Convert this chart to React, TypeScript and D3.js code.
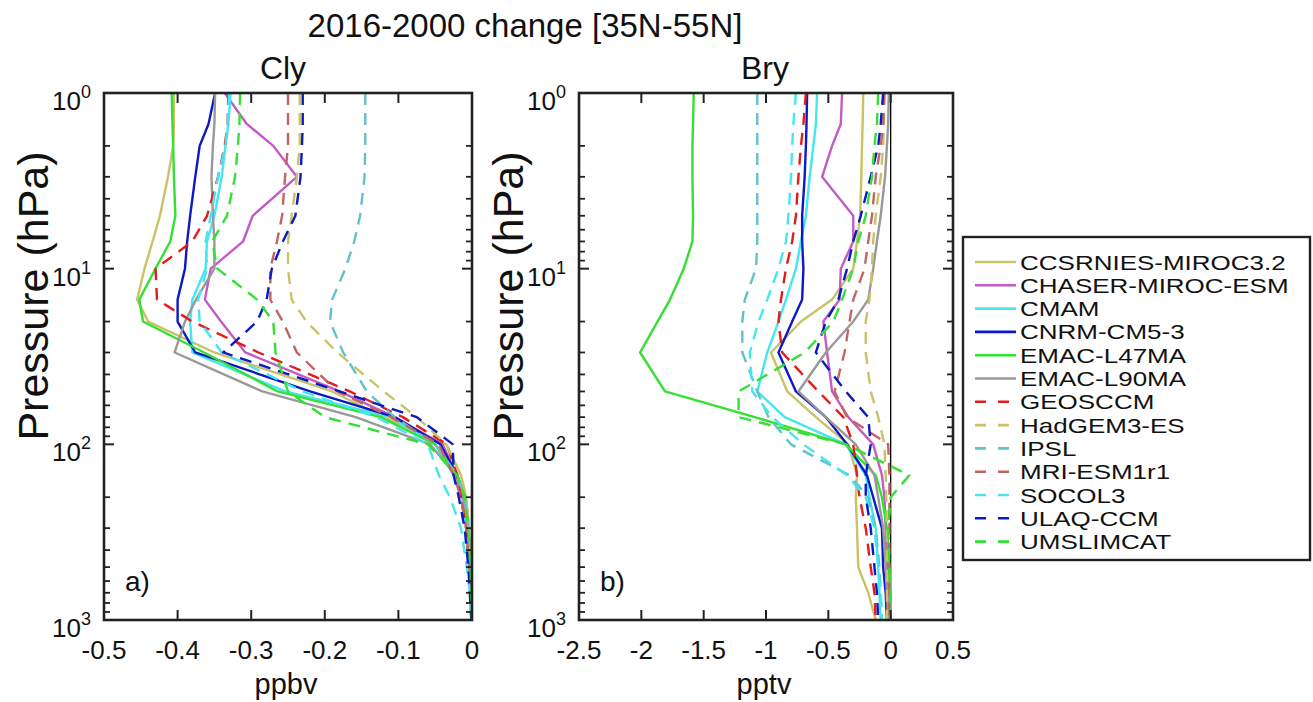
import React from 'react';
import * as d3 from 'd3';

// ---------------- DATA ----------------
const pressure = [1, 1.5, 2, 3, 5, 7, 10, 15, 20, 30, 50, 70, 100, 150, 200, 300, 500, 700, 1000];

const models = [
  'CCSRNIES-MIROC3.2', 'CHASER-MIROC-ESM', 'CMAM', 'CNRM-CM5-3', 'EMAC-L47MA', 'EMAC-L90MA',
  'GEOSCCM', 'HadGEM3-ES', 'IPSL', 'MRI-ESM1r1', 'SOCOL3', 'ULAQ-CCM', 'UMSLIMCAT',
];
const colors = [
  '#c9c266', '#c25cc4', '#45e6f2', '#0a1ac4', '#33e033', '#999999',
  '#e31c1c', '#c9c266', '#63c2c4', '#c26464', '#45e6f2', '#0a1ac4', '#33e033',
];
const dashed = [false, false, false, false, false, false, true, true, true, true, true, true, true];

// Cly change (ppbv) at each pressure level
const clyCCSRNIES = [-0.405, -0.405, -0.406, -0.413, -0.424, -0.434, -0.445, -0.455, -0.44, -0.35, -0.19, -0.12, -0.035, -0.015, -0.008, -0.004, -0.002, -0.001, 0];
const clyCHASER = [-0.336, -0.306, -0.27, -0.238, -0.298, -0.311, -0.355, -0.363, -0.341, -0.308, -0.18, -0.105, -0.04, -0.02, -0.012, -0.006, -0.003, -0.001, 0];
const clyCMAM = [-0.328, -0.331, -0.335, -0.34, -0.35, -0.36, -0.362, -0.38, -0.383, -0.38, -0.254, -0.11, -0.05, -0.025, -0.014, -0.007, -0.003, -0.001, 0];
const clyCNRM = [-0.349, -0.358, -0.37, -0.376, -0.383, -0.387, -0.39, -0.4, -0.4, -0.376, -0.22, -0.105, -0.043, -0.02, -0.01, -0.005, -0.002, -0.001, 0];
const clyEMAC47 = [-0.408, -0.407, -0.406, -0.405, -0.403, -0.41, -0.43, -0.452, -0.447, -0.364, -0.264, -0.124, -0.05, -0.02, -0.01, -0.005, -0.002, -0.001, 0];
const clyEMAC90 = [-0.349, -0.35, -0.352, -0.354, -0.352, -0.35, -0.35, -0.375, -0.39, -0.404, -0.285, -0.158, -0.057, -0.022, -0.012, -0.005, -0.002, -0.001, 0];
const clyGEOS = [-0.331, -0.332, -0.336, -0.345, -0.36, -0.38, -0.43, -0.428, -0.38, -0.29, -0.166, -0.094, -0.034, -0.02, -0.015, -0.008, -0.004, -0.002, -0.001];
const clyHadGEM = [-0.234, -0.234, -0.234, -0.238, -0.245, -0.25, -0.25, -0.245, -0.225, -0.183, -0.12, -0.075, -0.035, -0.015, -0.008, -0.004, -0.002, -0.001, 0];
const clyIPSL = [-0.145, -0.145, -0.145, -0.146, -0.152, -0.16, -0.172, -0.19, -0.193, -0.175, -0.143, -0.105, -0.05, -0.02, -0.01, -0.005, -0.002, -0.001, 0];
const clyMRI = [-0.25, -0.25, -0.25, -0.254, -0.258, -0.265, -0.274, -0.274, -0.257, -0.238, -0.183, -0.11, -0.045, -0.025, -0.015, -0.008, -0.004, -0.002, -0.001];
const clySOCOL = [-0.33, -0.332, -0.335, -0.345, -0.355, -0.362, -0.36, -0.372, -0.37, -0.34, -0.23, -0.13, -0.06, -0.045, -0.03, -0.015, -0.007, -0.003, -0.001];
const clyULAQ = [-0.23, -0.23, -0.231, -0.233, -0.24, -0.257, -0.272, -0.279, -0.292, -0.338, -0.18, -0.075, -0.026, -0.025, -0.018, -0.01, -0.005, -0.003, -0.001];
const clyUMSLIMCAT = [-0.315, -0.316, -0.318, -0.322, -0.333, -0.353, -0.346, -0.292, -0.27, -0.267, -0.25, -0.2, -0.06, -0.02, -0.01, -0.005, -0.002, -0.001, 0];

// Bry change (pptv) at each pressure level
const bryCCSRNIES = [-0.22, -0.225, -0.23, -0.235, -0.245, -0.27, -0.3, -0.47, -0.72, -0.96, -0.83, -0.6, -0.34, -0.27, -0.28, -0.27, -0.26, -0.18, -0.12];
const bryCHASER = [-0.39, -0.4, -0.47, -0.55, -0.3, -0.3, -0.4, -0.41, -0.54, -0.51, -0.47, -0.34, -0.14, -0.07, -0.05, -0.04, -0.03, -0.02, -0.02];
const bryCMAM = [-0.59, -0.6, -0.62, -0.65, -0.68, -0.72, -0.76, -0.84, -0.9, -0.99, -1.07, -0.85, -0.36, -0.2, -0.17, -0.12, -0.1, -0.09, -0.08];
const bryCNRM = [-0.67, -0.675, -0.68, -0.69, -0.71, -0.71, -0.7, -0.71, -0.79, -0.9, -0.76, -0.52, -0.35, -0.19, -0.14, -0.07, -0.06, -0.04, -0.03];
const bryEMAC47 = [-1.58, -1.585, -1.59, -1.59, -1.585, -1.59, -1.66, -1.77, -1.87, -2.01, -1.81, -1.09, -0.36, -0.12, -0.07, -0.03, -0.01, -0.005, 0];
const bryEMAC90 = [-0.015, -0.02, -0.03, -0.045, -0.08, -0.11, -0.14, -0.18, -0.3, -0.52, -0.74, -0.52, -0.28, -0.13, -0.1, -0.06, -0.04, -0.03, -0.02];
const bryGEOS = [-0.68, -0.7, -0.72, -0.74, -0.76, -0.79, -0.84, -0.88, -0.9, -0.87, -0.58, -0.38, -0.3, -0.27, -0.25, -0.2, -0.16, -0.13, -0.12];
const bryHadGEM = [-0.05, -0.055, -0.06, -0.08, -0.12, -0.14, -0.15, -0.17, -0.2, -0.2, -0.16, -0.1, -0.05, -0.04, -0.035, -0.03, -0.03, -0.03, -0.03];
const bryIPSL = [-1.07, -1.07, -1.07, -1.07, -1.07, -1.07, -1.08, -1.17, -1.19, -1.19, -1.07, -0.98, -0.8, -0.33, -0.18, -0.12, -0.09, -0.08, -0.07];
const bryMRI = [-0.05, -0.06, -0.08, -0.12, -0.15, -0.18, -0.21, -0.3, -0.33, -0.37, -0.45, -0.35, -0.02, -0.01, -0.01, -0.01, -0.01, -0.01, -0.01];
const brySOCOL = [-0.76, -0.78, -0.79, -0.8, -0.82, -0.84, -0.9, -0.99, -1.06, -1.13, -1.11, -0.95, -0.7, -0.35, -0.2, -0.13, -0.1, -0.08, -0.07];
const bryULAQ = [-0.06, -0.08, -0.1, -0.16, -0.24, -0.3, -0.35, -0.42, -0.52, -0.6, -0.36, -0.18, -0.16, -0.2, -0.2, -0.16, -0.13, -0.11, -0.1];
const bryUMSLIMCAT = [-0.1, -0.11, -0.13, -0.15, -0.2, -0.26, -0.3, -0.39, -0.46, -0.69, -1.22, -1.22, -0.36, 0.15, 0.0, -0.02, -0.01, 0, 0];

const clyData = [clyCCSRNIES, clyCHASER, clyCMAM, clyCNRM, clyEMAC47, clyEMAC90, clyGEOS, clyHadGEM, clyIPSL, clyMRI, clySOCOL, clyULAQ, clyUMSLIMCAT];
const bryData = [bryCCSRNIES, bryCHASER, bryCMAM, bryCNRM, bryEMAC47, bryEMAC90, bryGEOS, bryHadGEM, bryIPSL, bryMRI, brySOCOL, bryULAQ, bryUMSLIMCAT];

const clyTicks = [-0.5, -0.4, -0.3, -0.2, -0.1, 0];
const clyTickLabels = ['-0.5', '-0.4', '-0.3', '-0.2', '-0.1', '0'];
const bryTicks = [-2.5, -2, -1.5, -1, -0.5, 0, 0.5];
const bryTickLabels = ['-2.5', '-2', '-1.5', '-1', '-0.5', '0', '0.5'];
const yDecades = [0, 1, 2, 3];

// ---------------- LAYOUT ----------------
const FONT = '"Liberation Sans", Arial, Helvetica, sans-serif';
const TOP = 93;
const BOTTOM = 620;
const yScale = d3.scaleLog().domain([1, 1000]).range([TOP, BOTTOM]);

type PanelProps = {
  id: string;
  left: number;
  right: number;
  domain: [number, number];
  data: number[][];
  ticks: number[];
  tickLabels: string[];
  title: string;
  titleX: number;
  xlabel: string;
  letter: string;
  zeroLine: boolean;
  ylabelX: number;
};

function Panel(p: PanelProps) {
  const x = d3.scaleLinear().domain(p.domain).range([p.left, p.right]);
  const line = d3
    .line<number>()
    .x((v) => x(v))
    .y((_, i) => yScale(pressure[i]));
  const minor: number[] = [];
  for (let d = 0; d < 3; d++) for (let m = 2; m <= 9; m++) minor.push(m * Math.pow(10, d));
  const frame = '#222222';
  return (
    <g>
      <defs>
        <clipPath id={`clip-${p.id}`}>
          <rect x={p.left} y={TOP} width={p.right - p.left} height={BOTTOM - TOP} />
        </clipPath>
      </defs>
      <rect x={p.left} y={TOP} width={p.right - p.left} height={BOTTOM - TOP} fill="#fff" />
      {p.zeroLine && (
        <line x1={x(0)} x2={x(0)} y1={TOP} y2={BOTTOM} stroke="#000" strokeWidth={1.3} />
      )}
      <g clipPath={`url(#clip-${p.id})`}>
        {p.data.map((vals, i) => (
          <path
            key={i}
            d={line(vals) || ''}
            fill="none"
            stroke={colors[i]}
            strokeWidth={2.4}
            strokeDasharray={dashed[i] ? '12,8' : undefined}
            strokeLinejoin="round"
          />
        ))}
      </g>
      {p.ticks.map((t, i) => (
        <g key={`xt${i}`}>
          <line x1={x(t)} x2={x(t)} y1={BOTTOM} y2={BOTTOM - 10} stroke={frame} strokeWidth={2} />
          <line x1={x(t)} x2={x(t)} y1={TOP} y2={TOP + 10} stroke={frame} strokeWidth={2} />
          <text x={x(t)} y={659} textAnchor="middle" fontSize={26} fontFamily={FONT} fill="#111">
            {p.tickLabels[i]}
          </text>
        </g>
      ))}
      {yDecades.map((d) => {
        const yy = yScale(Math.pow(10, d));
        return (
          <g key={`yd${d}`}>
            <line x1={p.left} x2={p.left + 10} y1={yy} y2={yy} stroke={frame} strokeWidth={2} />
            <line x1={p.right} x2={p.right - 10} y1={yy} y2={yy} stroke={frame} strokeWidth={2} />
            <text x={p.left - 13} y={yy + 17} textAnchor="end" fontSize={26} fontFamily={FONT} fill="#111">
              10
              <tspan dy={-12} fontSize={18}>
                {d}
              </tspan>
            </text>
          </g>
        );
      })}
      {minor.map((m, i) => {
        const yy = yScale(m);
        return (
          <g key={`ym${i}`}>
            <line x1={p.left} x2={p.left + 6} y1={yy} y2={yy} stroke={frame} strokeWidth={1.8} />
            <line x1={p.right} x2={p.right - 6} y1={yy} y2={yy} stroke={frame} strokeWidth={1.8} />
          </g>
        );
      })}
      <rect
        x={p.left}
        y={TOP}
        width={p.right - p.left}
        height={BOTTOM - TOP}
        fill="none"
        stroke={frame}
        strokeWidth={2.6}
      />
      <text x={p.titleX} y={79} textAnchor="middle" fontSize={32} fontFamily={FONT} fill="#111">
        {p.title}
      </text>
      <text x={(p.left + p.right) / 2 - 2} y={694} textAnchor="middle" fontSize={29} fontFamily={FONT} fill="#111">
        {p.xlabel}
      </text>
      <text
        transform={`translate(${p.ylabelX},296) rotate(-90)`}
        textAnchor="middle"
        fontSize={43}
        fontFamily={FONT}
        fill="#111"
      >
        Pressure (hPa)
      </text>
      <text x={p.left + 21} y={591} fontSize={28} fontFamily={FONT} fill="#111">
        {p.letter}
      </text>
    </g>
  );
}

function Legend() {
  const left = 963;
  const top = 237;
  const right = 1310;
  const bottom = 560;
  const y0 = 262;
  const step = 23.3;
  return (
    <g>
      <rect x={left} y={top} width={right - left} height={bottom - top} fill="#fff" stroke="#222" strokeWidth={2.4} />
      {models.map((m, i) => {
        const yy = y0 + i * step;
        return (
          <g key={m}>
            <line
              x1={975}
              x2={dashed[i] ? 1009 : 1016}
              y1={yy}
              y2={yy}
              stroke={colors[i]}
              strokeWidth={2.6}
              strokeDasharray={dashed[i] ? '11,12' : undefined}
            />
            <text
              transform={`translate(1020,${yy + 7.5}) scale(1.3,1)`}
              fontSize={20}
              fontFamily={FONT}
              fill="#111"
            >
              {m}
            </text>
          </g>
        );
      })}
    </g>
  );
}

export default function App() {
  return (
    <svg
      width={1313}
      height={702}
      viewBox="0 0 1313 702"
      style={{ position: 'absolute', left: 0, top: 0, background: '#fff' }}
    >
      <rect x={0} y={0} width={1313} height={702} fill="#fff" />
      <text x={525} y={37} textAnchor="middle" fontSize={33} fontFamily={FONT} fill="#111">
        2016-2000 change [35N-55N]
      </text>
      <Panel
        id="a"
        left={104}
        right={472}
        domain={[-0.5, 0]}
        data={clyData}
        ticks={clyTicks}
        tickLabels={clyTickLabels}
        title="Cly"
        titleX={283}
        xlabel="ppbv"
        letter="a)"
        zeroLine={false}
        ylabelX={48}
      />
      <Panel
        id="b"
        left={579}
        right={953}
        domain={[-2.5, 0.5]}
        data={bryData}
        ticks={bryTicks}
        tickLabels={bryTickLabels}
        title="Bry"
        titleX={765}
        xlabel="pptv"
        letter="b)"
        zeroLine={true}
        ylabelX={523}
      />
      <Legend />
    </svg>
  );
}
